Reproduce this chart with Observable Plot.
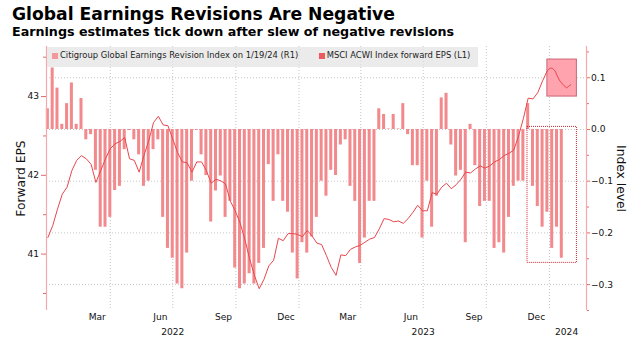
<!DOCTYPE html>
<html><head><meta charset="utf-8">
<script src="https://cdn.jsdelivr.net/npm/d3@7"></script>
<script src="https://cdn.jsdelivr.net/npm/@observablehq/plot@0.6"></script>
<style>
body{margin:0;background:#fff;font-family:"DejaVu Sans",sans-serif;}
#wrap{position:relative;width:636px;height:338px;overflow:hidden;background:#fff;}
#title{position:absolute;left:12px;top:5.75px;font-weight:bold;font-size:17.2px;line-height:17px;color:#000;white-space:nowrap;}
#subtitle{position:absolute;left:12px;top:25.8px;font-weight:bold;font-size:12.7px;line-height:12px;color:#000;white-space:nowrap;}
#chart{position:absolute;left:0;top:40px;}
#legend{position:absolute;left:47px;top:47px;width:431px;height:20px;background:rgba(226,226,226,0.7);font-size:8.4px;color:#222;}
#legend .sw{position:absolute;top:6.3px;width:6px;height:6px;}
#legend .tx{position:absolute;top:3px;line-height:10px;white-space:nowrap;}
</style></head>
<body>
<div id="wrap">
  <div id="title">Global Earnings Revisions Are Negative</div>
  <div id="subtitle">Earnings estimates tick down after slew of negative revisions</div>
  <div id="chart"></div>
  <div id="legend"></div>
</div>
<script>
// ---- data ----
const seriesNames = ["Citigroup Global Earnings Revision Index on 1/19/24 (R1)", "MSCI ACWI Index forward EPS (L1)"];
const firstWeek = "2021-12-31"; // weekly (Friday) observations through 2024-01-19
const revision = [
 0.040,0.119,0.080,0.010,0.050,0.090,0.010,0.060,-0.020,-0.010,
 -0.079,-0.189,-0.189,-0.170,-0.118,-0.110,-0.039,-0.002,-0.020,-0.049,
 -0.110,-0.100,-0.039,-0.020,-0.170,-0.230,-0.249,-0.299,-0.308,-0.239,
 -0.100,-0.002,-0.049,-0.089,-0.179,-0.119,-0.090,-0.170,-0.139,-0.268,
 -0.308,-0.299,-0.279,-0.299,-0.259,-0.230,-0.068,-0.139,-0.049,-0.139,
 -0.160,-0.239,-0.289,-0.219,-0.239,-0.208,-0.170,-0.100,-0.129,-0.079,
 -0.089,-0.030,-0.020,-0.110,-0.139,-0.259,-0.210,-0.139,-0.139,0.040,
 0.029,0.001,0.029,0.001,0.050,-0.010,-0.070,-0.070,-0.210,-0.100,
 -0.189,-0.129,0.061,0.070,-0.030,-0.090,-0.079,-0.219,0.010,-0.070,
 -0.149,-0.139,-0.139,-0.230,-0.219,-0.239,-0.170,-0.110,-0.100,-0.100,
 0.050,-0.110,-0.149,-0.189,-0.160,-0.230,-0.189,-0.249];
const epsWeekly = [
 41.21,41.36,41.57,41.76,41.85,42.06,42.19,42.25,42.21,42.14,
 41.91,42.06,42.21,42.34,42.40,42.43,42.48,42.21,42.19,42.04,
 42.25,42.44,42.67,42.75,42.64,42.63,42.46,42.29,42.17,42.16,
 42.04,42.17,42.17,42.06,41.90,41.95,41.93,41.89,41.67,41.55,
 41.40,41.19,40.94,40.73,40.56,40.68,40.85,40.92,41.20,41.17,
 41.26,41.26,41.25,41.22,41.30,41.23,41.14,41.12,40.98,40.83,
 40.73,40.99,40.98,41.06,41.09,41.11,41.15,41.19,41.21,41.32,
 41.45,41.44,41.41,41.42,41.39,41.45,41.53,41.62,41.55,41.55,
 41.78,41.76,41.85,41.90,41.83,41.88,41.95,42.04,42.03,42.08,
 42.12,42.09,42.12,42.17,42.20,42.25,42.28,42.32,42.50,42.72,
 42.98,42.97,43.05,43.20,43.33];
const epsTailDates = ["2024-01-02","2024-01-05","2024-01-09","2024-01-12","2024-01-16","2024-01-22","2024-01-26","2024-01-29","2024-02-01"];
const epsTailValues = [43.36,43.36,43.33,43.27,43.20,43.14,43.11,43.13,43.15];
const rightTicks = [0.1, 0.0, -0.1, -0.2, -0.3];
const rightMinorTicks = [0.15, 0.05, -0.05, -0.15, -0.25, -0.35];
const leftTicks = [41, 42, 43];
const leftMinorTicks = [40.5, 41.5, 42.5, 43.5];
const monthTicks = ["2022-03-13","2022-06-13","2022-09-13","2022-12-13","2023-03-13","2023-06-13","2023-09-13","2023-12-13"];
const yearTicks = ["2022-07-01","2023-07-01","2024-01-26"];
const gridDates = ["2022-04-01","2022-07-01","2022-10-01","2023-01-01","2023-04-01","2023-07-01","2023-10-01","2024-01-01"];
const highlightBox = [{x1:"2023-12-29", x2:"2024-02-10", y1:43.0, y2:43.47}];   // EPS units (L1)
const dottedBox = [{x1:"2023-11-30", x2:"2024-02-10", y1:-0.258, y2:0.005}];   // index units (R1)

// ---- styling ----
const BAR = "#F28A8D", LINE = "#E8474D", AXISLINE = "#F5A9AB", TICK = "#E46A6E";
const BAR_LEG = "#F3979A", LINE_LEG = "#EC5A60";
const E0 = 42.582, K = 0.15232;           // left (EPS) axis mapped onto right (index) scale
const epsToIdx = v => (v - E0) * K;
const idxToEps = v => v / K + E0;
const D = s => new Date(s);

const start = D(firstWeek);
const bars = revision.map((v, i) => ({date: d3.utcDay.offset(start, 7 * i), v}));
const eps = epsWeekly.map((v, i) => ({date: d3.utcDay.offset(start, 7 * i), v}))
  .concat(epsTailDates.map((d, i) => ({date: D(d), v: epsTailValues[i]})));
const x0 = D("2021-12-29"), x1 = D("2024-02-24");

const chart = Plot.plot({
  width: 636, height: 298,
  marginLeft: 46, marginRight: 50, marginTop: 6, marginBottom: 28,
  x: {type: "utc", domain: [x0, x1]},
  y: {domain: [-0.3501, 0.1605]},
  style: {fontFamily: "DejaVu Sans", fontSize: "9.1px", color: "#111", background: "transparent", overflow: "visible"},
  marks: [
    Plot.gridX(gridDates.map(D), {stroke: "#c4c4c4", strokeOpacity: 1, strokeDasharray: "1,2"}),
    Plot.gridY(rightTicks, {stroke: "#c4c4c4", strokeOpacity: 1, strokeDasharray: "1,2"}),
    Plot.rect(bars, {x1: d => d3.utcHour.offset(d.date, -53), x2: d => d3.utcHour.offset(d.date, 53), y1: 0, y2: "v", fill: BAR}),
    Plot.rect(highlightBox, {x1: d => D(d.x1), x2: d => D(d.x2), y1: d => epsToIdx(d.y1), y2: d => epsToIdx(d.y2), fill: "#FFA3AE", stroke: "#CC6676", strokeWidth: 1}),
    Plot.rect(dottedBox, {x1: d => D(d.x1), x2: d => D(d.x2), y1: "y1", y2: "y2", fill: "none", stroke: "#C4242E", strokeWidth: 1, strokeDasharray: "1,1"}),
    Plot.line(eps, {x: "date", y: d => epsToIdx(d.v), stroke: LINE, strokeWidth: 1}),
    Plot.ruleX([x0], {stroke: AXISLINE, strokeWidth: 1.2}),
    Plot.ruleX([x1], {stroke: AXISLINE, strokeWidth: 1.2}),
    Plot.axisY(rightTicks, {anchor: "right", tickSize: 3, tickPadding: 1.5, tickFormat: d3.format(".1f"), stroke: TICK, fill: "#111", label: null}),
    Plot.axisY(rightMinorTicks, {anchor: "right", tickSize: 2, tickFormat: () => "", stroke: TICK, label: null}),
    Plot.axisY(leftTicks.map(epsToIdx), {anchor: "left", tickSize: 5, tickPadding: 2.5, tickFormat: d => d3.format(".0f")(idxToEps(d)), stroke: TICK, fill: "#111", label: null}),
    Plot.axisY(leftMinorTicks.map(epsToIdx), {anchor: "left", tickSize: 3, tickFormat: () => "", stroke: TICK, label: null}),
    Plot.axisX(monthTicks.map(D), {tickSize: 0, tickPadding: 3.5, tickFormat: d3.utcFormat("%b"), fill: "#111", label: null}),
    Plot.axisX(yearTicks.map(D), {tickSize: 0, tickPadding: 18, tickFormat: d3.utcFormat("%Y"), fill: "#111", label: null}),
    Plot.text(["Forward EPS"], {frameAnchor: "left", rotate: -90, dx: -25, textAnchor: "middle", fontSize: 12.3, fill: "#111"}),
    Plot.text(["Index level"], {frameAnchor: "right", rotate: 90, dx: 34, textAnchor: "middle", fontSize: 12.3, fill: "#111"})
  ]
});
document.getElementById("chart").appendChild(chart);

// legend
const legend = document.getElementById("legend");
const items = [{name: seriesNames[0], color: BAR_LEG, sx: 5.3, tx: 13}, {name: seriesNames[1], color: LINE_LEG, sx: 272.3, tx: 279.7}];
for (const it of items) {
  const sw = document.createElement("span"); sw.className = "sw"; sw.style.left = it.sx + "px"; sw.style.background = it.color; legend.appendChild(sw);
  const tx = document.createElement("span"); tx.className = "tx"; tx.style.left = it.tx + "px"; tx.textContent = it.name; legend.appendChild(tx);
}
</script>
</body></html>
